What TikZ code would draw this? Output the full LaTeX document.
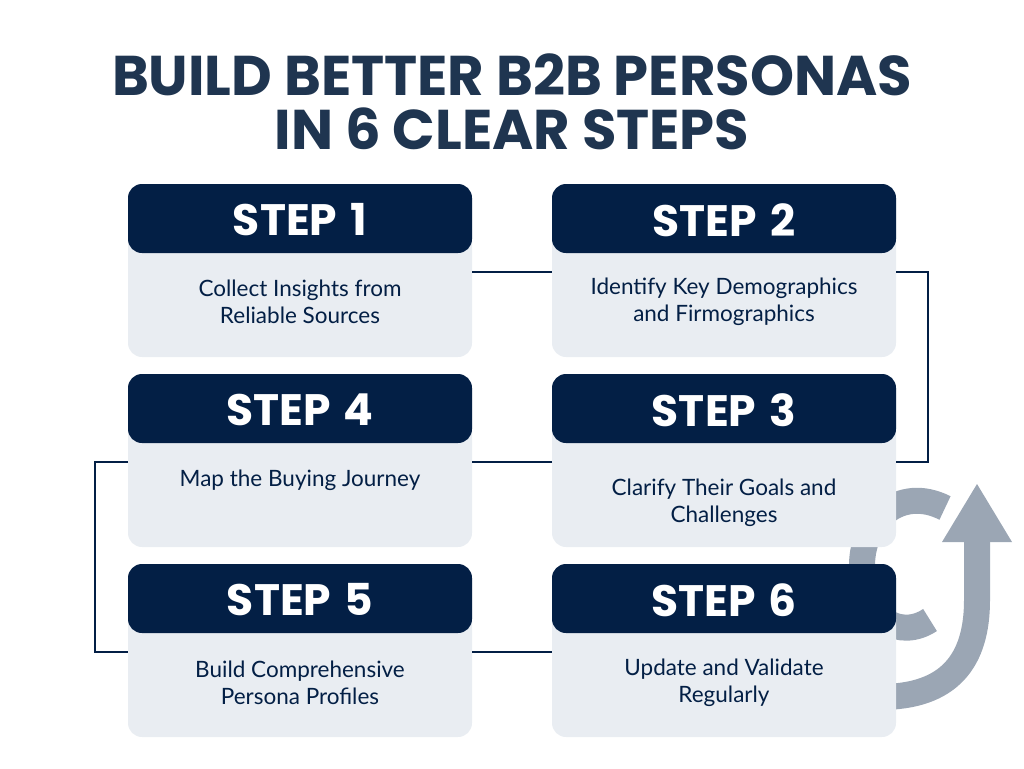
\documentclass[tikz,border=0pt]{standalone}
\usepackage{fontspec}
\setmainfont{Lato}
\newfontfamily\titlef{Poppins}[UprightFont=* Bold]
\definecolor{navy}{HTML}{031F45}
\definecolor{titlec}{HTML}{1F3550}
\definecolor{cardbg}{HTML}{E9EDF2}
\definecolor{arrowc}{HTML}{9BA6B4}
\begin{document}
\begin{tikzpicture}[x=1pt,y=-1pt,
  card/.style={fill=cardbg,rounded corners=14pt},
  head/.style={fill=navy,rounded corners=14pt},
  headtxt/.style={text=white,font=\titlef\fontsize{44}{46}\selectfont},
  bodytxt/.style={text=navy,align=center,font=\fontsize{22.5}{27}\selectfont},
  conn/.style={navy,line width=2.5pt}]
\useasboundingbox (0,0) rectangle (1024,768);
% gray arrow (behind)
\draw[arrowc,line width=26pt] (945,508) .. controls (900,485) and (860,520) .. (862,570) .. controls (864,620) and (900,640) .. (930,620);
\draw[arrowc,line width=26pt] (880,697) .. controls (950,697) and (977,660) .. (977,600) -- (977,540);
\fill[arrowc] (942,542) -- (1012,542) -- (977,484) -- cycle;
\node[text=titlec,align=center,font=\titlef\fontsize{56}{54}\selectfont] (title) at (512,102) {BUILD BETTER B2B PERSONAS\\IN 6 CLEAR STEPS};
% cards
\foreach \n/\x/\y in {1/128/184,2/552/184,4/128/374,3/552/374,5/128/564,6/552/564}{
  \fill[card] (\x,\y) rectangle ++(344,173);
  \fill[head] (\x,\y) rectangle ++(344,69);
  \node[headtxt] (h\n) at (\x+172,\y+36) {STEP\hspace{0.3em}\n};
  \coordinate (L\n) at (\x,\y+88);
  \coordinate (R\n) at (\x+344,\y+88);
}
\node[bodytxt] (b1) at (300,302) {Collect Insights from\\Reliable Sources};
\node[bodytxt] (b2) at (724,302) {Identify Key Demographics\\and Firmographics};
\node[bodytxt] (b4) at (300,480) {Map the Buying Journey};
\node[bodytxt] (b3) at (724,503) {Clarify Their Goals and\\Challenges};
\node[bodytxt] (b5) at (300,683) {Build Comprehensive\\Persona Profiles};
\node[bodytxt] (b6) at (724,683) {Update and Validate\\Regularly};
\draw[conn] (R1) -- (L2);
\draw[conn] (R2) -- ++(32,0) |- (R3);
\draw[conn] (L3) -- (R4);
\draw[conn] (L4) -- ++(-33,0) |- (L5);
\draw[conn] (R5) -- (L6);
\end{tikzpicture}
\end{document}
